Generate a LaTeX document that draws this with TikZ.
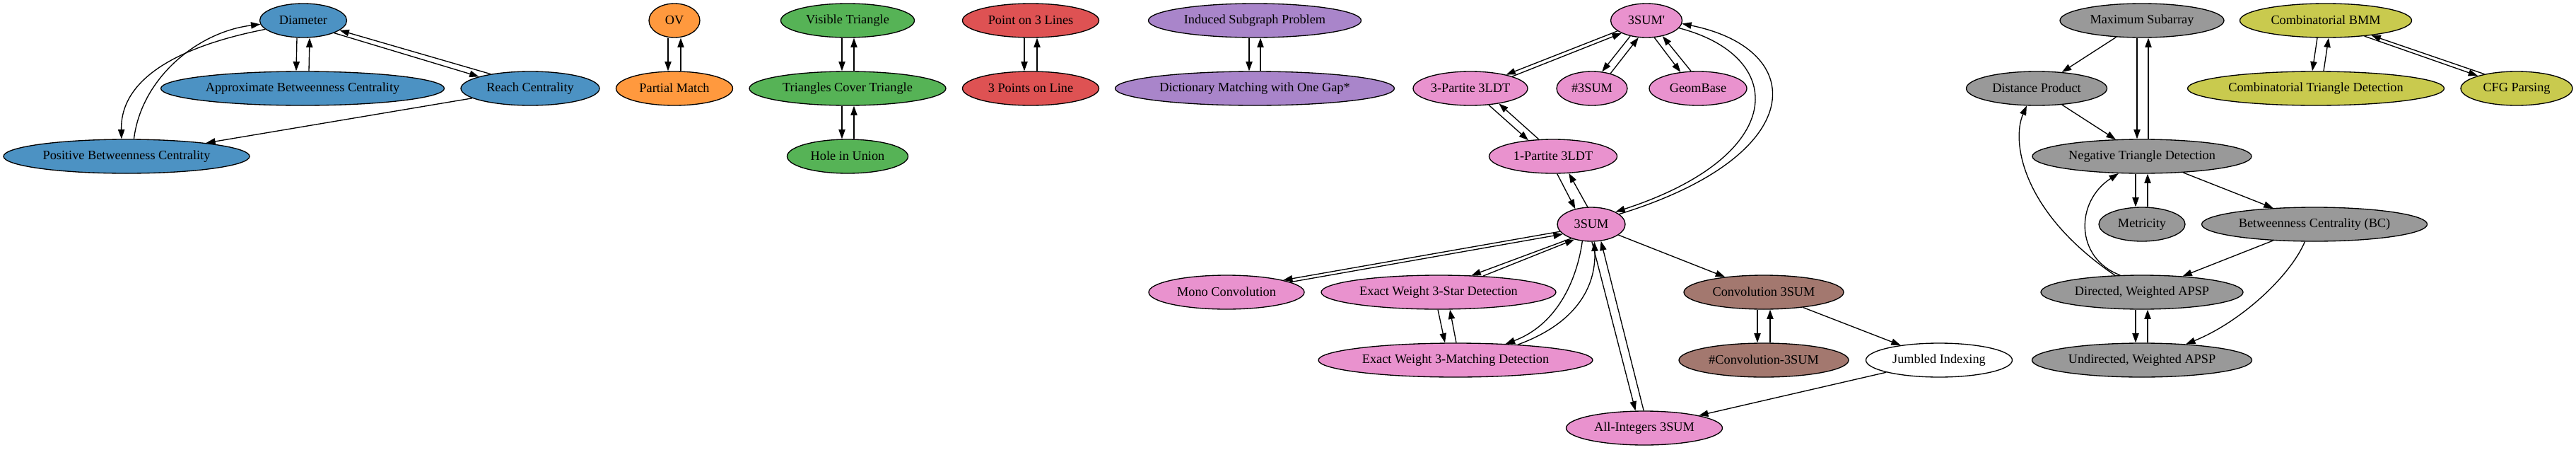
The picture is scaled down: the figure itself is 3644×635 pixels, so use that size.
\documentclass[tikz,border=0pt]{standalone}
\usepackage{fontspec}
\setmainfont{Liberation Serif}
\usetikzlibrary{shapes.geometric,arrows.meta}
\definecolor{cblue}{RGB}{76,146,195}
\definecolor{corange}{RGB}{255,153,62}
\definecolor{cgreen}{RGB}{86,179,86}
\definecolor{cred}{RGB}{222,82,83}
\definecolor{cpurple}{RGB}{169,133,202}
\definecolor{cpink}{RGB}{233,146,206}
\definecolor{cbrown}{RGB}{163,120,111}
\definecolor{cgray}{RGB}{153,153,153}
\definecolor{colive}{RGB}{201,202,78}
\newcommand\nlab[1]{\makebox[0pt]{\rule[-2pt]{0pt}{15pt}#1}}
\begin{document}
\begin{tikzpicture}[x=1pt,y=-1pt,
  nd/.style={ellipse,draw=black,line width=1.33pt,inner sep=0pt,minimum height=48pt,font=\fontsize{18.3}{20}\selectfont},
  e/.style={draw=black,line width=1.33pt,-{Triangle[length=13.3pt,width=9.3pt]}}]
\useasboundingbox[fill=white] (0,0) rectangle (3644,635);
% blue
\node[nd,fill=cblue,minimum width=123pt] (dia) at (429,29) {\nlab{Diameter}};
\node[nd,fill=cblue,minimum width=401pt] (abc) at (428,125) {\nlab{Approximate Betweenness Centrality}};
\node[nd,fill=cblue,minimum width=196pt] (reach) at (750,125) {\nlab{Reach Centrality}};
\node[nd,fill=cblue,minimum width=348pt] (pbc) at (179,221) {\nlab{Positive Betweenness Centrality}};
% orange
\node[nd,fill=corange,minimum width=72pt] (ov) at (954,29) {\nlab{OV}};
\node[nd,fill=corange,minimum width=165pt] (pm) at (954,125) {\nlab{Partial Match}};
% green
\node[nd,fill=cgreen,minimum width=189pt] (vt) at (1199,29) {\nlab{Visible Triangle}};
\node[nd,fill=cgreen,minimum width=278pt] (tct) at (1199,125) {\nlab{Triangles Cover Triangle}};
\node[nd,fill=cgreen,minimum width=171pt] (hu) at (1199,221) {\nlab{Hole in Union}};
% red
\node[nd,fill=cred,minimum width=193pt] (pl) at (1458,29) {\nlab{Point on 3 Lines}};
\node[nd,fill=cred,minimum width=193pt] (tp) at (1458,125) {\nlab{3 Points on Line}};
% purple
\node[nd,fill=cpurple,minimum width=301pt] (isp) at (1775,29) {\nlab{Induced Subgraph Problem}};
\node[nd,fill=cpurple,minimum width=395pt] (dm) at (1775,125) {\nlab{Dictionary Matching with One Gap*}};
% pink
\node[nd,fill=cpink,minimum width=101pt] (sp) at (2329,29) {\nlab{3SUM\textquotesingle}};
\node[nd,fill=cpink,minimum width=162pt] (ptt) at (2080,125) {\nlab{3-Partite 3LDT}};
\node[nd,fill=cpink,minimum width=100pt] (hs) at (2252,125) {\nlab{\#3SUM}};
\node[nd,fill=cpink,minimum width=138pt] (gb) at (2402,125) {\nlab{GeomBase}};
\node[nd,fill=cpink,minimum width=181pt] (pot) at (2197,221) {\nlab{1-Partite 3LDT}};
\node[nd,fill=cpink,minimum width=96pt] (ts) at (2251,317) {\nlab{3SUM}};
\node[nd,fill=cpink,minimum width=220pt] (mono) at (1735,413) {\nlab{Mono Convolution}};
\node[nd,fill=cpink,minimum width=332pt] (star) at (2035,413) {\nlab{Exact Weight 3-Star Detection}};
\node[nd,fill=cpink,minimum width=388pt] (match) at (2059,509) {\nlab{Exact Weight 3-Matching Detection}};
\node[nd,fill=cpink,minimum width=221pt] (ai) at (2326,605) {\nlab{All-Integers 3SUM}};
% brown / white
\node[nd,fill=cbrown,minimum width=226pt] (conv) at (2495,413) {\nlab{Convolution 3SUM}};
\node[nd,fill=cbrown,minimum width=240pt] (hconv) at (2495,509) {\nlab{\#Convolution-3SUM}};
\node[nd,fill=white,minimum width=207pt] (ji) at (2743,509) {\nlab{Jumbled Indexing}};
% gray
\node[nd,fill=cgray,minimum width=232pt] (ms) at (3030,29) {\nlab{Maximum Subarray}};
\node[nd,fill=cgray,minimum width=199pt] (dp) at (2881,125) {\nlab{Distance Product}};
\node[nd,fill=cgray,minimum width=310pt] (nt) at (3030,221) {\nlab{Negative Triangle Detection}};
\node[nd,fill=cgray,minimum width=122pt] (met) at (3030,317) {\nlab{Metricity}};
\node[nd,fill=cgray,minimum width=319pt] (bc) at (3274,317) {\nlab{Betweenness Centrality (BC)}};
\node[nd,fill=cgray,minimum width=286pt] (da) at (3030,413) {\nlab{Directed, Weighted APSP}};
\node[nd,fill=cgray,minimum width=311pt] (ua) at (3030,509) {\nlab{Undirected, Weighted APSP}};
% olive
\node[nd,fill=colive,minimum width=243pt] (bmm) at (3290,29) {\nlab{Combinatorial BMM}};
\node[nd,fill=colive,minimum width=363pt] (ctd) at (3276,125) {\nlab{Combinatorial Triangle Detection}};
\node[nd,fill=colive,minimum width=158pt] (cfg) at (3560,125) {\nlab{CFG Parsing}};

% blue edges
\draw[e] ([xshift=-9pt]dia.south) -- ([xshift=-9pt]abc.north);
\draw[e] ([xshift=9pt]abc.north) -- ([xshift=9pt]dia.south);
\draw[e] (dia.338) -- (reach.167);
\draw[e] (reach.160) -- (dia.345);
\draw[e] (dia.193) .. controls (255,65) and (170,110) .. (pbc.106);
\draw[e] (pbc.67) .. controls (200,110) and (280,45) .. (dia.185);
\draw[e] (reach) -- (pbc);
% vertical pairs
\draw[e] ([xshift=-9pt]ov.south) -- ([xshift=-9pt]pm.north);
\draw[e] ([xshift=9pt]pm.north) -- ([xshift=9pt]ov.south);
\draw[e] ([xshift=-8pt]vt.south) -- ([xshift=-8pt]tct.north);
\draw[e] ([xshift=9pt]tct.north) -- ([xshift=9pt]vt.south);
\draw[e] ([xshift=-8pt]tct.south) -- ([xshift=-8pt]hu.north);
\draw[e] ([xshift=9pt]hu.north) -- ([xshift=9pt]tct.south);
\draw[e] ([xshift=-9pt]pl.south) -- ([xshift=-9pt]tp.north);
\draw[e] ([xshift=9pt]tp.north) -- ([xshift=9pt]pl.south);
\draw[e] ([xshift=-8pt]isp.south) -- ([xshift=-8pt]dm.north);
\draw[e] ([xshift=8pt]dm.north) -- ([xshift=8pt]isp.south);
% pink edges
\draw[e] (sp.200) -- (ptt.21);
\draw[e] (ptt.16) -- (sp.207);
\draw[e] (sp.224) -- (hs.59);
\draw[e] (hs.39) -- (sp.245);
\draw[e] (sp.295) -- (gb.137);
\draw[e] (gb.112) -- (sp.316);
\draw[e] (sp.347) .. controls (2530,80) and (2530,220) .. (ts.27);
\draw[e] (ts.20) .. controls (2560,220) and (2560,70) .. (sp.355);
\draw[e] (ptt.318) -- (pot.147);
\draw[e] (pot.130) -- (ptt.332);
\draw[e] (pot.283) -- (ts.136);
\draw[e] (ts.102) -- (pot.313);
\draw[e] (ts.193) -- (mono.12);
\draw[e] (mono.9) -- (ts.199);
\draw[e] (ts.215) -- (star.27);
\draw[e] (star.20) -- (ts.222);
\draw[e] ([xshift=-1pt]star.south) -- ([xshift=-15pt]match.north);
\draw[e] ([xshift=1pt]match.north) -- ([xshift=16pt]star.south);
\draw[e] (ts.242) .. controls (2230,400) and (2200,460) .. (match.18);
\draw[e] (match.14) .. controls (2235,455) and (2258,400) .. (ts.280);
\draw[e] (ts.272) -- (ai.117);
\draw[e] (ai.92) -- (ts.300);
\draw[e] (ts) -- (conv);
\draw[e] ([xshift=-9pt]conv.south) -- ([xshift=-9pt]hconv.north);
\draw[e] ([xshift=9pt]hconv.north) -- ([xshift=9pt]conv.south);
\draw[e] (conv) -- (ji);
\draw[e] (ji) -- (ai);
% gray edges
\draw[e] (ms) -- (dp);
\draw[e] ([xshift=-7pt]ms.south) -- ([xshift=-7pt]nt.north);
\draw[e] ([xshift=9pt]nt.north) -- ([xshift=9pt]ms.south);
\draw[e] (dp) -- (nt);
\draw[e] (da.148) .. controls (2860,300) and (2845,200) .. (dp.240);
\draw[e] (da.142) .. controls (2935,365) and (2935,285) .. (nt.216);
\draw[e] ([xshift=-9pt]nt.south) -- ([xshift=-9pt]met.north);
\draw[e] ([xshift=8pt]met.north) -- ([xshift=8pt]nt.south);
\draw[e] (nt) -- (bc);
\draw[e] (bc) -- (da);
\draw[e] (bc.241) .. controls (3240,390) and (3170,455) .. (ua.20);
\draw[e] ([xshift=-9pt]da.south) -- ([xshift=-9pt]ua.north);
\draw[e] ([xshift=8pt]ua.north) -- ([xshift=8pt]da.south);
% olive edges
\draw[e] ([xshift=-12pt]bmm.south) -- ([xshift=-5pt]ctd.north);
\draw[e] ([xshift=11pt]ctd.north) -- ([xshift=4pt]bmm.south);
\draw[e] (bmm.338) -- (cfg.162);
\draw[e] (cfg.156) -- (bmm.342);
\end{tikzpicture}
\end{document}
